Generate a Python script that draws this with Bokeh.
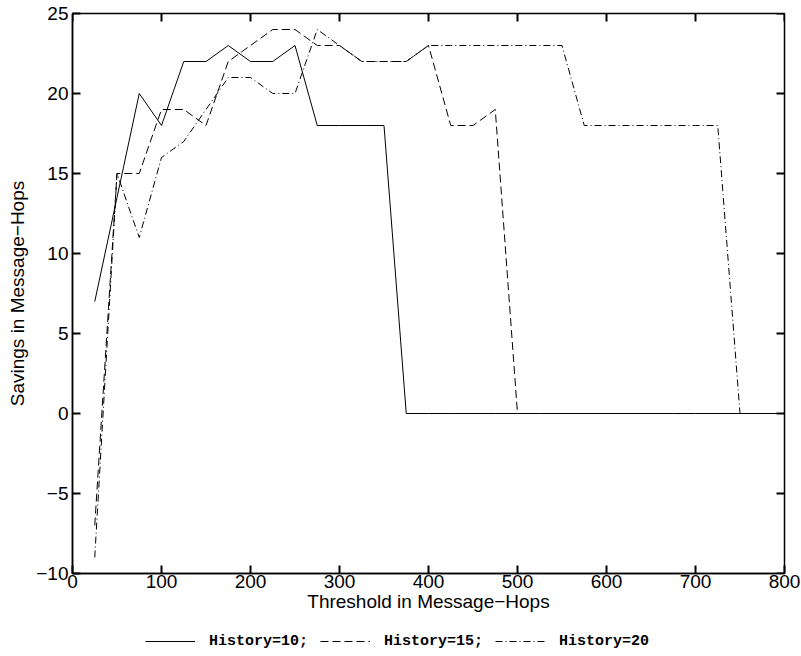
from bokeh.plotting import figure
from bokeh.layouts import column
from bokeh.models import Range1d, FixedTicker, Legend, LegendItem
from bokeh.embed import file_html
from bokeh.resources import INLINE

# ---- data ----
thresholds = [25, 50, 75, 100, 125, 150, 175, 200, 225, 250, 275, 300, 325, 350,
              375, 400, 425, 450, 475, 500, 525, 550, 575, 600, 625, 650, 675,
              700, 725, 750, 775, 800]
history10 = [7, 13.5, 20, 18, 22, 22, 23, 22, 22, 23, 18, 18, 18, 18,
             0, 0, 0, 0, 0, 0, 0, 0, 0, 0, 0, 0, 0, 0, 0, 0, 0, 0]
history15 = [-7, 15, 15, 19, 19, 18, 22, 23, 24, 24, 23, 23, 22, 22,
             22, 23, 18, 18, 19, 0, 0, 0, 0, 0, 0, 0, 0, 0, 0, 0, 0, 0]
history20 = [-9, 15, 11, 16, 17, 19, 21, 21, 20, 20, 24, 23, 22, 22,
             22, 23, 23, 23, 23, 23, 23, 23, 18, 18, 18, 18, 18, 18, 18, 0, 0, 0]
series_labels = ["History=10;", "History=15;", "History=20"]
x_ticks = [0, 100, 200, 300, 400, 500, 600, 700, 800]
y_ticks = [-10, -5, 0, 5, 10, 15, 20, 25]
x_label = "Threshold in Message\u2212Hops"
y_label = "Savings in Message\u2212Hops"

FONT = "Liberation Sans"
FS = "19px"
FRAME_W, FRAME_H = 712, 560
TICK_PX = 8
TICK_W = 2

xa, xb = x_ticks[0], x_ticks[-1]
ya, yb = y_ticks[0], y_ticks[-1]
styles = [dict(line_color="black", line_width=1),
          dict(line_color="black", line_width=1, line_dash="8 4"),
          dict(line_color="black", line_width=1, line_dash="7 3 1 3")]

p = figure(frame_width=FRAME_W, frame_height=FRAME_H, output_backend="svg",
           toolbar_location=None,
           x_range=Range1d(xa, xb), y_range=Range1d(ya, yb),
           min_border_left=72, min_border_right=17, min_border_top=13,
           min_border_bottom=0)
p.background_fill_color = "white"
p.border_fill_color = "white"
p.outline_line_color = "black"
p.outline_line_width = 1.5
p.grid.visible = False

for ax in (p.xaxis[0], p.yaxis[0]):
    ax.major_tick_in = TICK_PX
    ax.major_tick_out = 0
    ax.major_tick_line_width = TICK_W
    ax.major_tick_line_color = "black"
    ax.minor_tick_line_color = None
    ax.axis_line_color = "black"
    ax.axis_line_width = 1.5
    ax.major_label_text_font = FONT
    ax.major_label_text_font_size = FS
    ax.major_label_text_color = "black"
    ax.axis_label_text_font = FONT
    ax.axis_label_text_font_size = FS
    ax.axis_label_text_font_style = "normal"
    ax.axis_label_text_color = "black"

p.xaxis[0].ticker = FixedTicker(ticks=x_ticks)
p.yaxis[0].ticker = FixedTicker(ticks=y_ticks)
p.yaxis[0].major_label_overrides = {t: (("\u2212" + str(-t)) if t < 0 else str(t)) for t in y_ticks}
p.xaxis[0].axis_label = x_label
p.yaxis[0].axis_label = y_label
p.xaxis[0].major_label_standoff = 1
p.xaxis[0].axis_label_standoff = 0
p.yaxis[0].major_label_standoff = 4
p.yaxis[0].axis_label_standoff = 5

# inward tick marks on top and right edges, derived from tick lists
dx = TICK_PX * (xb - xa) / FRAME_W
dy = TICK_PX * (yb - ya) / FRAME_H
p.segment(x0=x_ticks, y0=[yb] * len(x_ticks), x1=x_ticks, y1=[yb - dy] * len(x_ticks),
          line_color="black", line_width=TICK_W)
p.segment(x0=[xb] * len(y_ticks), y0=y_ticks, x1=[xb - dx] * len(y_ticks), y1=y_ticks,
          line_color="black", line_width=TICK_W)

r1 = p.line(thresholds, history10, **styles[0])
r2 = p.line(thresholds, history15, **styles[1])
r3 = p.line(thresholds, history20, **styles[2])

# legend strip below the axes
lg = figure(width=801, height=40, output_backend="svg", toolbar_location=None,
            x_range=Range1d(0, 801), y_range=Range1d(0, 40),
            min_border=0, outline_line_color=None)
lg.axis.visible = False
lg.grid.visible = False
lg.background_fill_color = "white"
lg.border_fill_color = "white"
nan = float("nan")
dummies = [lg.line([nan], [nan], **s) for s in styles]
legend = Legend(items=[LegendItem(label=lab, renderers=[r]) for lab, r in zip(series_labels, dummies)],
                orientation="horizontal", location=(73, 3),
                label_text_font="Liberation Mono", label_text_font_style="bold",
                label_text_font_size="15px", label_text_color="black",
                glyph_width=50, label_standoff=14, spacing=12,
                border_line_color=None, background_fill_alpha=0,
                padding=0, margin=0)
lg.add_layout(legend, "center")

layout = column(p, lg, spacing=0)
open("out.html", "w").write(file_html(layout, INLINE))
